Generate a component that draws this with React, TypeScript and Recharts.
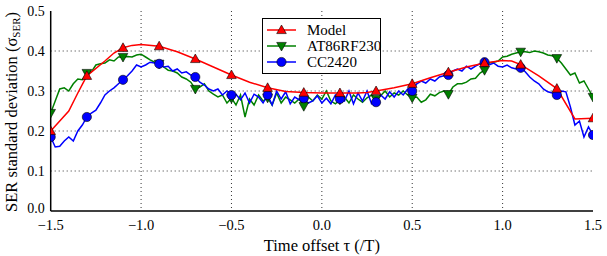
import React from "react";
import {
  LineChart,
  Line,
  XAxis,
  YAxis,
  CartesianGrid,
  Legend,
} from "recharts";

const TAU_START = -1.5;
const TAU_STEP = 0.025;

const MODEL = [
  0.2, 0.25, 0.295, 0.338, 0.375, 0.395, 0.408, 0.414, 0.416, 0.412, 0.398,
  0.38, 0.36, 0.34, 0.322, 0.308, 0.299, 0.296, 0.295, 0.295, 0.295, 0.296,
  0.3, 0.308, 0.318, 0.333, 0.347, 0.36, 0.37, 0.376, 0.375, 0.366, 0.338,
  0.306, 0.23, 0.232,
];
const MODEL_TAU = [
  -1.5, -1.4, -1.35, -1.3, -1.2, -1.15, -1.1, -1.05, -1.0, -0.9, -0.8, -0.7,
  -0.6, -0.5, -0.4, -0.3, -0.2, -0.1, 0.0, 0.1, 0.2, 0.25, 0.3, 0.4, 0.5, 0.6,
  0.7, 0.8, 0.9, 1.0, 1.05, 1.1, 1.2, 1.3, 1.4, 1.5,
];

const AT86 = [
  0.245, 0.275, 0.305, 0.308, 0.3, 0.318, 0.33, 0.328, 0.345, 0.348, 0.365,
  0.368, 0.37, 0.378, 0.375, 0.385, 0.385, 0.386, 0.385, 0.39, 0.392, 0.385,
  0.378, 0.372, 0.368, 0.36, 0.352, 0.35, 0.345, 0.335, 0.33, 0.322, 0.305,
  0.31, 0.318, 0.3, 0.292, 0.285, 0.29, 0.27, 0.282, 0.265, 0.29, 0.235, 0.28,
  0.265, 0.29, 0.275, 0.283, 0.265, 0.295, 0.27, 0.285, 0.278, 0.27, 0.28,
  0.262, 0.285, 0.275, 0.29, 0.28, 0.3, 0.275, 0.268, 0.278, 0.285, 0.27, 0.29,
  0.28, 0.272, 0.283, 0.29, 0.28, 0.288, 0.3, 0.285, 0.295, 0.29, 0.3, 0.29,
  0.283, 0.285, 0.272, 0.278, 0.292, 0.288, 0.296, 0.3, 0.292, 0.31, 0.318,
  0.318, 0.322, 0.33, 0.332, 0.345, 0.352, 0.37, 0.372, 0.375, 0.385, 0.387,
  0.392, 0.395, 0.398, 0.398, 0.396, 0.4, 0.398, 0.395, 0.39, 0.388, 0.382,
  0.37, 0.355, 0.34, 0.345, 0.32, 0.325, 0.305, 0.285,
];

const CC2420 = [
  0.185, 0.16, 0.162, 0.175, 0.185, 0.175, 0.2, 0.215, 0.235, 0.245, 0.252,
  0.27, 0.29, 0.3, 0.308, 0.318, 0.328, 0.338, 0.35, 0.365, 0.36, 0.365, 0.372,
  0.37, 0.368, 0.36, 0.362, 0.35, 0.355, 0.345, 0.348, 0.34, 0.335, 0.322,
  0.315, 0.305, 0.3, 0.305, 0.29, 0.3, 0.29, 0.292, 0.278, 0.295, 0.27, 0.292,
  0.285, 0.27, 0.29, 0.265, 0.3, 0.28, 0.298, 0.268, 0.285, 0.278, 0.282, 0.27,
  0.275, 0.288, 0.27, 0.282, 0.268, 0.29, 0.28, 0.275, 0.3, 0.268, 0.295,
  0.275, 0.3, 0.268, 0.272, 0.29, 0.28, 0.298, 0.285, 0.3, 0.29, 0.305, 0.3,
  0.318, 0.325, 0.32, 0.33, 0.325, 0.335, 0.338, 0.34, 0.35, 0.355, 0.35,
  0.362, 0.355, 0.362, 0.368, 0.372, 0.365, 0.37, 0.362, 0.36, 0.365, 0.358,
  0.355, 0.358, 0.348, 0.335, 0.325, 0.318, 0.305, 0.298, 0.295, 0.29, 0.3,
  0.298, 0.26, 0.215, 0.225, 0.185, 0.21, 0.19,
];

const X_TICKS = [-1.5, -1.0, -0.5, 0.0, 0.5, 1.0, 1.5];
const Y_TICKS = [0.0, 0.1, 0.2, 0.3, 0.4, 0.5];

const round3 = (v: number) => Math.round(v * 1000) / 1000;

const rowsMap = new Map<number, any>();
AT86.forEach((v, i) => {
  const t = round3(TAU_START + i * TAU_STEP);
  rowsMap.set(t, { tau: t, at86: v, cc: CC2420[i] });
});
MODEL_TAU.forEach((t, i) => {
  const k = round3(t);
  const r = rowsMap.get(k) || { tau: k };
  r.model = MODEL[i];
  rowsMap.set(k, r);
});
const data = Array.from(rowsMap.values()).sort((a, b) => a.tau - b.tau);

const isMarker = (t: number) => {
  const k = (t + 1.5) / 0.2;
  return Math.abs(k - Math.round(k)) < 1e-6;
};

const Marker = ({ shape, cx, cy, color }: any) => {
  if (shape === "up")
    return (
      <polygon
        points={`${cx},${cy - 5} ${cx - 4.8},${cy + 3.6} ${cx + 4.8},${cy + 3.6}`}
        fill={color}
        stroke="#000"
        strokeWidth={0.6}
      />
    );
  if (shape === "down")
    return (
      <polygon
        points={`${cx},${cy + 5} ${cx - 4.8},${cy - 3.6} ${cx + 4.8},${cy - 3.6}`}
        fill={color}
        stroke="#000"
        strokeWidth={0.6}
      />
    );
  return <circle cx={cx} cy={cy} r={4.6} fill={color} stroke="#000" strokeWidth={0.6} />;
};

const makeDot = (shape: string, color: string, key: string) => (props: any) => {
  const { cx, cy, payload, index } = props;
  if (cx == null || cy == null || payload == null || !isMarker(payload.tau) || payload[key] == null)
    return <g key={`${key}-${index}`} />;
  return (
    <g key={`${key}-${index}`}>
      <Marker shape={shape} cx={cx} cy={cy} color={color} />
    </g>
  );
};

const fmt = (v: number) => v.toFixed(1).replace("-", "\u2212");
const FONT = "Liberation Serif, DejaVu Serif, serif";

const YTick = (props: any) => {
  const { x, y, payload } = props;
  const shift = payload.value === 0 ? -3 : 0;
  return (
    <text
      x={x}
      y={y + shift}
      dy="0.355em"
      textAnchor="end"
      fontFamily={FONT}
      fontSize={14}
      fill="#000"
    >
      {fmt(payload.value)}
    </text>
  );
};

const SERIES = [
  { name: "Model", color: "#ff0000", shape: "up" },
  { name: "AT86RF230", color: "#008000", shape: "down" },
  { name: "CC2420", color: "#0000ff", shape: "circle" },
];

const LegendBox = () => (
  <div
    style={{
      width: 119,
      height: 56,
      border: "1px solid #000",
      background: "#fff",
      boxSizing: "border-box",
      position: "relative",
    }}
  >
    <svg width={119} height={56} style={{ position: "absolute", left: 0, top: 0 }}>
      {SERIES.map((s, i) => {
        const y = 11 + i * 16;
        return (
          <g key={s.name}>
            <line x1={4} x2={33} y1={y} y2={y} stroke={s.color} strokeWidth={1.5} />
            <Marker shape={s.shape} cx={18.5} cy={y} color={s.color} />
            <text x={44} y={y + 5} fontFamily={FONT} fontSize={15} fill="#000">
              {s.name}
            </text>
          </g>
        );
      })}
    </svg>
  </div>
);

const YLabel = () => (
  <text
    transform="translate(17,112) rotate(-90)"
    textAnchor="middle"
    fontFamily={FONT}
    fontSize={16.5}
    fill="#000"
  >
    SER standard deviation (σ
    <tspan fontSize={11} dy={3}>SER</tspan>
    <tspan dy={-3}>)</tspan>
  </text>
);

export default function App() {
  return (
    <div style={{ position: "absolute", left: 0, top: 0, width: 607, height: 256, background: "#fff" }}>
      <LineChart
        width={607}
        height={256}
        data={data}
        margin={{ top: 11, right: 14, bottom: 0, left: 0 }}
      >
        <CartesianGrid
          stroke="#000"
          strokeWidth={0.8}
          strokeDasharray="1 3"
          horizontalValues={[0.1, 0.2, 0.3, 0.4]}
          verticalValues={[-1.0, -0.5, 0.0, 0.5, 1.0]}
        />
        <XAxis
          dataKey="tau"
          type="number"
          domain={[-1.5, 1.5]}
          ticks={X_TICKS}
          tickFormatter={fmt}
          tickLine={false}
          tickSize={0}
          axisLine={{ stroke: "#000", strokeWidth: 1.5 }}
          height={45}
          tick={{ fontFamily: FONT, fontSize: 14.5, fill: "#000" }}
          tickMargin={9}
          label={{
            value: "Time offset τ (/T)",
            position: "insideBottom",
            offset: 5,
            style: { fontFamily: FONT, fontSize: 16.5, fill: "#000" },
          }}
          allowDataOverflow
        />
        <XAxis
          xAxisId="top"
          orientation="top"
          dataKey="tau"
          type="number"
          domain={[-1.5, 1.5]}
          tick={false}
          tickLine={false}
          height={0}
          axisLine={{ stroke: "#000", strokeWidth: 1.5 }}
        />
        <YAxis
          type="number"
          domain={[0, 0.5]}
          ticks={Y_TICKS}
          tickLine={false}
          tickSize={0}
          axisLine={{ stroke: "#000", strokeWidth: 1.5 }}
          width={50.7}
          tick={<YTick />}
          tickMargin={6}
          label={<YLabel />}
        />
        <YAxis
          yAxisId="right"
          orientation="right"
          type="number"
          domain={[0, 0.5]}
          tick={false}
          tickLine={false}
          width={0}
          axisLine={{ stroke: "#000", strokeWidth: 1.5 }}
        />
        <Line
          dataKey="at86"
          name="AT86RF230"
          stroke="#008000"
          strokeWidth={1.5}
          type="linear"
          isAnimationActive={false}
          dot={makeDot("down", "#008000", "at86")}
          activeDot={false}
        />
        <Line
          dataKey="cc"
          name="CC2420"
          stroke="#0000ff"
          strokeWidth={1.5}
          type="linear"
          isAnimationActive={false}
          dot={makeDot("circle", "#0000ff", "cc")}
          activeDot={false}
        />
        <Line
          dataKey="model"
          name="Model"
          stroke="#ff0000"
          strokeWidth={1.5}
          type="linear"
          connectNulls
          isAnimationActive={false}
          dot={makeDot("up", "#ff0000", "model")}
          activeDot={false}
        />
        <Legend
          layout="vertical"
          verticalAlign="middle"
          align="center"
          content={<LegendBox />}
          wrapperStyle={{ position: "absolute", left: 262, top: 18, width: 119, height: 56 }}
        />
      </LineChart>
    </div>
  );
}
